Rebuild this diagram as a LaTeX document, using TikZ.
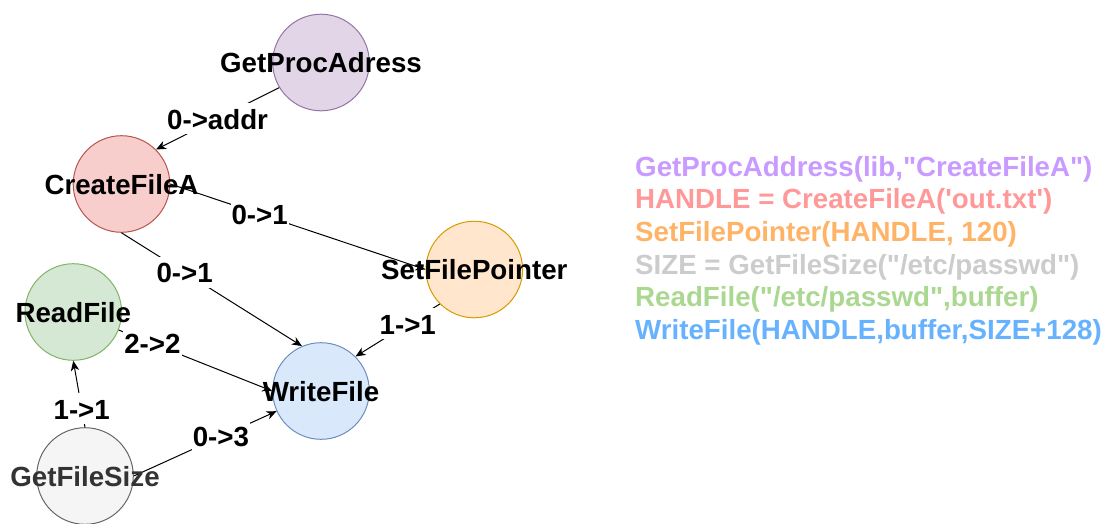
\documentclass[tikz,border=0pt]{standalone}
\usepackage{fontspec}
\setmainfont{Liberation Sans}[Ligatures=TeXOff]
\usetikzlibrary{arrows.meta}

% node fills and strokes
\definecolor{purpleFill}{HTML}{E1D5E7}\definecolor{purpleLine}{HTML}{9673A6}
\definecolor{redFill}{HTML}{F8CECC}\definecolor{redLine}{HTML}{B85450}
\definecolor{orangeFill}{HTML}{FFE6CC}\definecolor{orangeLine}{HTML}{D79B00}
\definecolor{greenFill}{HTML}{D5E8D4}\definecolor{greenLine}{HTML}{82B366}
\definecolor{blueFill}{HTML}{DAE8FC}\definecolor{blueLine}{HTML}{6C8EBF}
\definecolor{grayFill}{HTML}{F5F5F5}\definecolor{grayLine}{HTML}{666666}
\definecolor{grayText}{HTML}{333333}
% colours of the call listing
\definecolor{codePurple}{HTML}{C99AFF}
\definecolor{codeRed}{HTML}{FF9999}
\definecolor{codeOrange}{HTML}{FFB366}
\definecolor{codeGray}{HTML}{CCCCCC}
\definecolor{codeGreen}{HTML}{ABD890}
\definecolor{codeBlue}{HTML}{66B2FF}

\begin{document}
\begin{tikzpicture}[x=1pt,y=-1pt]
\tikzset{
  fn/.style={font=\fontsize{27.7pt}{33pt}\selectfont\bfseries},
  callnode/.style={circle, minimum size=96.6pt, inner sep=0pt, line width=1pt},
  ntext/.style={fn, inner sep=0pt, text height=20pt, text depth=0pt},
  lbl/.style={fn, fill=white, inner xsep=1pt, inner ysep=1pt, text height=25pt, text depth=4pt},
  conn/.style={line width=1pt, -{Stealth[length=10pt,width=8.5pt,inset=3pt]}},
  code/.style={fn, inner sep=0pt, anchor=base west}
}
\useasboundingbox (0,0) rectangle (1107,523);

% call nodes
\node[callnode, fill=purpleFill, draw=purpleLine] (gpa) at (321,62.5) {};
\node[callnode, fill=redFill,    draw=redLine]    (cfa) at (121.5,184) {};
\node[callnode, fill=orangeFill, draw=orangeLine] (sfp) at (474.3,269.5) {};
\node[callnode, fill=greenFill,  draw=greenLine]  (rf)  at (73.3,312) {};
\node[callnode, fill=blueFill,   draw=blueLine]   (wf)  at (321,391) {};
\node[callnode, fill=grayFill,   draw=grayLine]   (gfs) at (85,476) {};

% data flow between calls
\draw[conn] (gpa.211) -- node[lbl, pos=0.5]  (e1) {0->addr} (cfa.45);
\draw[conn] (cfa.east) -- node[lbl, pos=0.35] (e2) {0->1} (sfp.west);
\draw[conn] (cfa.south) -- node[lbl, pos=0.35] (e3) {0->1} (wf.113);
\draw[conn] (sfp.225) -- node[lbl, pos=0.38] (e4) {1->1} (wf.45);
\draw[conn] (rf) -- node[lbl, pos=0.22] (e5) {2->2} (wf.west);
\draw[conn] (gfs.north) -- node[lbl, pos=0.28] (e6) {1->1} (rf.south);
\draw[conn] (gfs.east) -- node[lbl, pos=0.61] (e7) {0->3} (wf);

% call names
\node[ntext] (gpa-t) at (gpa) {GetProcAdress};
\node[ntext] (cfa-t) at (cfa) {CreateFileA};
\node[ntext] (sfp-t) at (sfp) {SetFilePointer};
\node[ntext] (rf-t)  at (rf)  {ReadFile};
\node[ntext] (wf-t)  at (wf)  {WriteFile};
\node[ntext, text=grayText] (gfs-t) at (gfs) {GetFileSize};

% call listing
\node[code, text=codePurple] (c1) at (635,176)   {GetProcAddress(lib,"CreateFileA")};
\node[code, text=codeRed]    (c2) at (635,208.7) {HANDLE = CreateFileA('out.txt')};
\node[code, text=codeOrange] (c3) at (635,241.4) {SetFilePointer(HANDLE, 120)};
\node[code, text=codeGray]   (c4) at (635,274.1) {SIZE = GetFileSize("/etc/passwd")};
\node[code, text=codeGreen]  (c5) at (635,306.8) {ReadFile("/etc/passwd",buffer)};
\node[code, text=codeBlue]   (c6) at (635,339.5) {WriteFile(HANDLE,buffer,SIZE+128)};
\end{tikzpicture}
\end{document}
